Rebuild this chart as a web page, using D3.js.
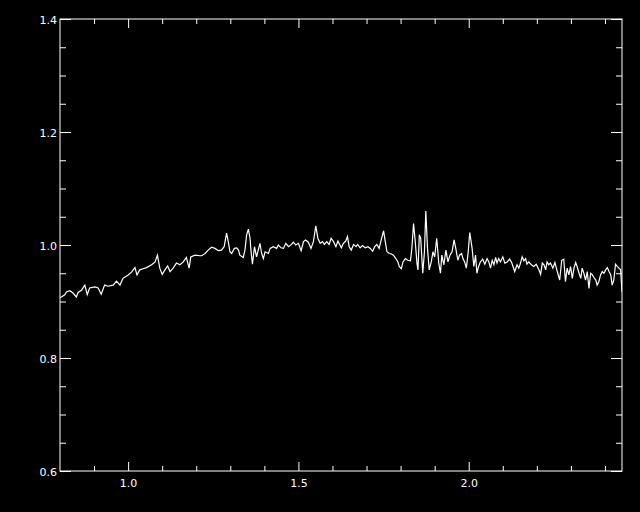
<!DOCTYPE html>
<html><head><meta charset="utf-8">
<script src="https://cdn.jsdelivr.net/npm/d3@7"></script>
<style>html,body{margin:0;padding:0;background:#000;}svg{display:block;}</style>
</head><body>
<script>
const wavelength = [0.800,0.804,0.814,0.819,0.829,0.838,0.848,0.853,0.863,0.873,0.880,0.887,0.902,0.912,0.921,0.931,0.941,0.956,0.966,0.976,0.985,1.000,1.010,1.020,1.026,1.034,1.044,1.054,1.069,1.079,1.086,1.093,1.100,1.108,1.116,1.123,1.132,1.142,1.152,1.162,1.171,1.179,1.184,1.196,1.211,
1.216,1.226,1.235,1.245,1.255,1.265,1.274,1.282,1.289,1.294,1.299,1.304,1.312,1.319,1.324,1.328,1.338,1.343,1.348,1.353,1.358,1.361,1.365,1.371,1.377,1.382,1.387,1.392,1.397,1.402,1.412,1.417,1.426,1.436,1.441,1.449,1.456,1.463,1.471,1.480,1.485,1.492,1.500,1.508,1.515,1.521,1.529,1.537,1.544,1.551,1.557,1.564,1.571,1.576,1.583,1.590,1.596,1.603,1.610,1.616,
1.626,1.632,1.639,1.644,1.649,1.655,1.662,1.669,1.674,1.681,1.688,1.696,1.704,1.711,1.718,1.724,1.730,1.737,1.743,1.750,1.755,1.760,1.767,1.773,1.779,1.786,1.792,1.796,1.802,1.807,1.814,1.821,1.829,1.833,1.838,1.843,1.848,1.851,1.855,1.859,1.865,1.870,1.874,1.879,1.884,1.890,1.895,1.900,1.906,1.912,1.917,1.921,1.927,1.933,1.939,1.945,1.951,1.957,1.962,1.968,1.973,1.979,1.983,1.988,1.993,1.998,2.003,2.010,2.015,2.020,2.024,2.029,
2.034,2.041,2.047,2.054,2.059,2.064,2.069,2.074,2.079,2.083,2.088,2.093,2.100,2.106,2.113,2.120,2.126,2.130,2.135,2.142,2.147,2.152,2.157,2.162,2.167,2.171,2.176,2.184,2.191,2.198,2.206,2.211,2.216,2.221,2.226,2.230,2.235,2.240,2.247,2.253,2.260,2.267,2.273,2.279,2.284,2.289,2.294,2.299,2.304,2.309,2.314,2.318,2.324,2.329,2.333,2.338,2.343,2.348,2.353,2.358,2.363,2.368,2.373,2.377,2.382,2.387,2.392,2.397,2.402,2.407,2.412,2.417,2.421,2.426,2.431,2.436,2.441,2.446,2.450];

const flux = [0.907,0.908,0.912,0.917,0.919,0.915,0.908,0.916,0.920,0.929,0.912,0.924,0.926,0.924,0.913,0.929,0.927,0.929,0.936,0.929,0.941,0.947,0.952,0.960,0.947,0.956,0.958,0.960,0.965,0.970,0.982,0.959,0.948,0.956,0.963,0.953,0.959,0.968,0.965,0.970,0.978,0.959,0.979,0.982,0.981,
0.981,0.985,0.991,0.996,0.994,0.990,0.991,0.997,1.021,1.006,0.988,0.985,0.994,0.995,0.991,0.982,0.978,0.991,1.018,1.028,1.012,0.988,0.966,0.997,0.979,0.991,1.003,0.985,0.976,0.988,0.985,0.994,0.997,0.994,1.000,0.995,0.994,1.003,0.997,1.001,1.005,1.000,1.003,0.990,1.006,1.009,1.005,0.994,1.006,1.034,1.012,1.003,1.006,1.001,1.006,1.001,1.012,1.006,0.997,1.007,
0.995,1.003,1.007,1.015,0.997,0.991,1.001,0.997,1.001,0.995,0.999,0.995,0.997,0.994,0.989,0.997,1.001,0.994,1.009,1.025,1.006,0.988,0.985,0.984,0.982,0.976,0.970,0.962,0.958,0.970,0.976,0.973,0.972,0.994,1.038,1.006,0.968,0.956,1.018,1.012,0.950,0.988,1.060,0.994,0.956,0.970,0.988,0.979,1.012,0.968,0.950,0.982,0.965,0.991,0.970,0.982,0.988,1.009,0.994,0.973,0.982,0.985,0.976,0.970,0.959,0.985,1.022,0.994,0.962,0.982,0.950,0.962,
0.970,0.975,0.966,0.976,0.970,0.959,0.973,0.965,0.978,0.968,0.976,0.970,0.979,0.968,0.970,0.975,0.969,0.962,0.953,0.965,0.959,0.968,0.979,0.972,0.976,0.966,0.970,0.965,0.962,0.966,0.956,0.948,0.968,0.965,0.956,0.970,0.965,0.968,0.959,0.969,0.953,0.938,0.973,0.975,0.935,0.959,0.947,0.962,0.941,0.959,0.969,0.962,0.950,0.941,0.959,0.950,0.938,0.953,0.923,0.950,0.947,0.942,0.938,0.929,0.935,0.947,0.953,0.950,0.956,0.960,0.953,0.947,0.929,0.938,0.966,0.962,0.959,0.956,0.917];

const xMajorTicks = [1.0, 1.5, 2.0];
const xMinorTicks = [0.9,1.1,1.2,1.3,1.4,1.6,1.7,1.8,1.9,2.1,2.2,2.3,2.4];
const yMajorTicks = [0.6, 0.8, 1.0, 1.2, 1.4];
const yMinorTicks = [0.65,0.7,0.75,0.85,0.9,0.95,1.05,1.1,1.15,1.25,1.3,1.35];

const W = 640, H = 512;
const L = 60, R = 622, T = 19, B = 471;

const svg = d3.select("body").append("svg").attr("width", W).attr("height", H)
  .style("background", "#000");

const x = d3.scaleLinear().domain([0.8, 2.45]).range([L, R]);
const y = d3.scaleLinear().domain([0.6, 1.4]).range([B, T]);

const fmt = d3.format(".1f");
const font = "'DejaVu Sans', sans-serif";

function style(g) {
  g.select(".domain").remove();
  g.selectAll("line").attr("stroke", "#fff").attr("stroke-width", 1);
  g.selectAll("text").attr("fill", "#fff").style("font-family", font).style("font-size", "11px");
}

// bottom
svg.append("g").attr("transform", `translate(0,${B})`)
  .call(d3.axisBottom(x).tickValues(xMajorTicks).tickSize(-9).tickPadding(8).tickFormat(fmt)).call(style);
svg.append("g").attr("transform", `translate(0,${B})`)
  .call(d3.axisBottom(x).tickValues(xMinorTicks).tickSize(-5).tickFormat("")).call(style);
// top
svg.append("g").attr("transform", `translate(0,${T})`)
  .call(d3.axisTop(x).tickValues(xMajorTicks).tickSize(-9).tickFormat("")).call(style);
svg.append("g").attr("transform", `translate(0,${T})`)
  .call(d3.axisTop(x).tickValues(xMinorTicks).tickSize(-5).tickFormat("")).call(style);
// left
svg.append("g").attr("transform", `translate(${L},0)`)
  .call(d3.axisLeft(y).tickValues(yMajorTicks).tickSize(-11).tickPadding(3).tickFormat(fmt)).call(style)
  .selectAll("text").attr("dy", "0.45em");
svg.append("g").attr("transform", `translate(${L},0)`)
  .call(d3.axisLeft(y).tickValues(yMinorTicks).tickSize(-6).tickFormat("")).call(style);
// right
svg.append("g").attr("transform", `translate(${R},0)`)
  .call(d3.axisRight(y).tickValues(yMajorTicks).tickSize(-11).tickFormat("")).call(style);
svg.append("g").attr("transform", `translate(${R},0)`)
  .call(d3.axisRight(y).tickValues(yMinorTicks).tickSize(-6).tickFormat("")).call(style);

// frame
svg.append("rect").attr("x", L).attr("y", T).attr("width", R - L).attr("height", B - T)
  .attr("fill", "none").attr("stroke", "#fff").attr("stroke-width", 1);

svg.append("clipPath").attr("id", "clip").append("rect")
  .attr("x", L).attr("y", T).attr("width", R - L).attr("height", B - T);

const data = wavelength.map((w, i) => [w, flux[i]]);
svg.append("path").datum(data)
  .attr("clip-path", "url(#clip)")
  .attr("fill", "none").attr("stroke", "#fff").attr("stroke-width", 1.2)
  .attr("d", d3.line().x(d => x(d[0])).y(d => y(d[1])));
</script>
</body></html>
